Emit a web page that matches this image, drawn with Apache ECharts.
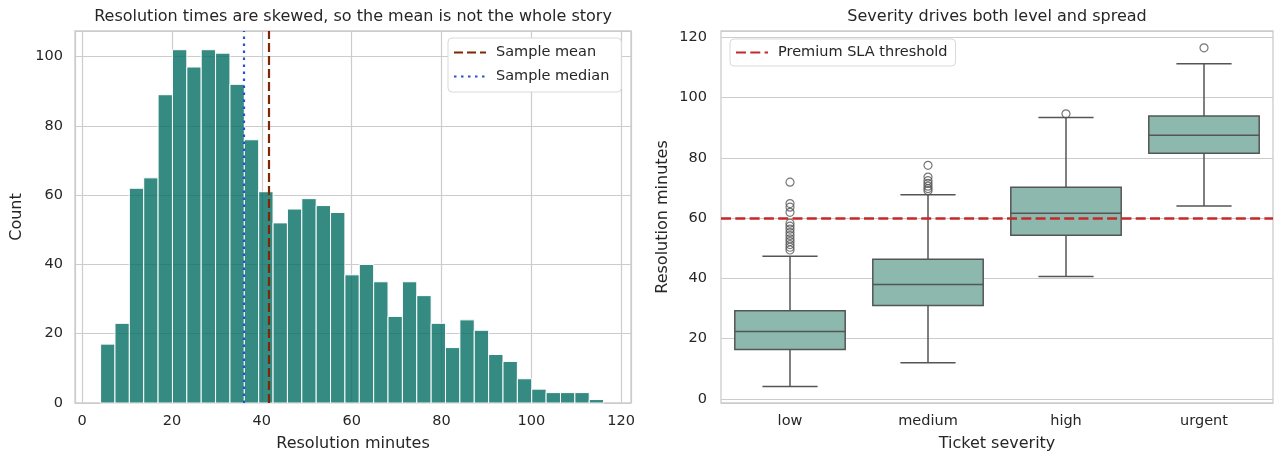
<!DOCTYPE html>
<html>
<head>
<meta charset="utf-8">
<script src="https://cdn.jsdelivr.net/npm/echarts@6.0.0/dist/echarts.min.js"></script>
<style>html,body{margin:0;background:#fff}#main{width:1284px;height:464px}</style>
</head>
<body>
<div id="main"></div>
<script>
// histogram of resolution minutes
const binEdges = [4.1, 7.3, 10.5, 13.7, 16.9, 20.1, 23.3, 26.5, 29.7, 32.9, 36.1, 39.3, 42.5, 45.7, 48.9, 52.1, 55.3, 58.5,
  61.7, 64.9, 68.1, 71.3, 74.5, 77.7, 80.9, 84.1, 87.3, 90.5, 93.7, 96.9, 100.1, 103.3, 106.5, 109.7, 112.9, 116.1];
const binCounts = [17, 23, 62, 65, 89, 102, 97, 102, 101, 92, 76, 61, 52, 56, 59, 57, 55, 37,
  40, 35, 25, 35, 31, 23, 16, 24, 21, 14, 12, 7, 4, 3, 3, 3, 1];
const sampleMean = 41.5;
const sampleMedian = 35.9;

// box plot by severity
const severities = ['low', 'medium', 'high', 'urgent'];
const boxStats = [ // min, q1, median, q3, max (whisker ends)
  [4.1, 16.4, 22.3, 29.2, 47.3],
  [12.0, 31.0, 37.9, 46.3, 67.7],
  [40.6, 54.3, 61.6, 70.2, 93.4],
  [64.0, 81.5, 87.5, 93.9, 111.2],
];
const outliersLow = [71.9, 64.8, 63.6, 61.9, 58.3, 57.3, 56.3, 55.2, 54.2, 53.1, 52.2, 51.2, 50.3, 49.4];
const outliersMedium = [77.5, 73.6, 72.4, 71.5, 70.6, 69.8, 69.1];
const outliersHigh = [94.6];
const outliersUrgent = [116.5];
const slaThreshold = 60;

const FONT = 'DejaVu Sans';
const TXT = '#262626';
const GRID = '#cccccc';

const outlierData = [
  ...outliersLow.map(v => ['low', v]),
  ...outliersMedium.map(v => ['medium', v]),
  ...outliersHigh.map(v => ['high', v]),
  ...outliersUrgent.map(v => ['urgent', v]),
];

const every20 = v => (Math.abs(v % 20) < 1e-6 ? String(Math.round(v)) : '');

function renderBin(params, api) {
  const p0 = api.coord([api.value(0), api.value(2)]);
  const p1 = api.coord([api.value(1), 0]);
  return {
    type: 'rect',
    shape: { x: p0[0], y: p0[1], width: p1[0] - p0[0], height: p1[1] - p0[1] },
    style: { fill: 'rgba(2,110,98,0.8)', stroke: '#ffffff', lineWidth: 1 },
  };
}

function renderBox(params, api) {
  const i = api.value(0);
  const band = api.size([1, 0])[0];
  const half = band * 0.4, capHalf = band * 0.2;
  const x = api.coord([i, 0])[0];
  const yOf = k => api.coord([i, api.value(k)])[1];
  const [yMin, yQ1, yMed, yQ3, yMax] = [1, 2, 3, 4, 5].map(yOf);
  const line = (x1, y1, x2, y2) => ({ type: 'line', shape: { x1, y1, x2, y2 }, style: { stroke: '#555555', lineWidth: 1.5 } });
  return {
    type: 'group',
    children: [
      line(x, yQ1, x, yMin), line(x - capHalf, yMin, x + capHalf, yMin),
      line(x, yQ3, x, yMax), line(x - capHalf, yMax, x + capHalf, yMax),
      { type: 'rect', shape: { x: x - half, y: yQ3, width: 2 * half, height: yQ1 - yQ3 },
        style: { fill: '#8db8ad', stroke: '#555555', lineWidth: 1.5 } },
      line(x - half, yMed, x + half, yMed),
    ],
  };
}

const axisText = { color: TXT, fontFamily: FONT, fontSize: 14.5 };
const nameText = { color: TXT, fontFamily: FONT, fontSize: 16 };
const legendCommon = {
  orient: 'vertical', backgroundColor: '#ffffff', borderColor: '#d9d9d9', borderWidth: 1, borderRadius: 4,
  itemWidth: 32, itemHeight: 14, itemGap: 9,
  itemStyle: { opacity: 0 },
  textStyle: { color: TXT, fontFamily: FONT, fontSize: 14.5, padding: [0, 0, 0, 5] },
};

const chart = echarts.init(document.getElementById('main'), null, { renderer: 'canvas' });
chart.setOption({
  animation: false,
  backgroundColor: '#ffffff',
  title: [
    { text: 'Resolution times are skewed, so the mean is not the whole story', left: 353, top: 9, textAlign: 'center', padding: 0,
      textStyle: { color: TXT, fontFamily: FONT, fontSize: 16, fontWeight: 'normal' } },
    { text: 'Severity drives both level and spread', left: 997, top: 9, textAlign: 'center', padding: 0,
      textStyle: { color: TXT, fontFamily: FONT, fontSize: 16, fontWeight: 'normal' } },
  ],
  legend: [
    Object.assign({}, legendCommon, { left: 448, top: 38, padding: [7, 12, 8, 5], data: ['Sample mean', 'Sample median'] }),
    Object.assign({}, legendCommon, { left: 730, top: 39, padding: [6, 8, 6, 5], data: ['Premium SLA threshold'] }),
  ],
  grid: [
    { left: 75, top: 31, width: 556, height: 372, show: true, borderColor: GRID, borderWidth: 1.3, backgroundColor: '#fff',
      containLabel: false, outerBoundsMode: 'none' },
    { left: 721, top: 31, width: 552, height: 372, show: true, borderColor: GRID, borderWidth: 1.3, backgroundColor: '#fff',
      containLabel: false, outerBoundsMode: 'none' },
  ],
  xAxis: [
    { type: 'value', gridIndex: 0, min: -1.6, max: 122.2, splitNumber: 6,
      name: 'Resolution minutes', nameLocation: 'middle', nameGap: 33, nameTextStyle: nameText,
      axisLine: { show: false }, axisTick: { show: false },
      axisLabel: Object.assign({ margin: 11, formatter: every20, showMinLabel: true, showMaxLabel: true }, axisText),
      splitLine: { show: true, lineStyle: { color: GRID, width: 1.2 } } },
    { type: 'category', gridIndex: 1, data: severities, boundaryGap: true,
      name: 'Ticket severity', nameLocation: 'middle', nameGap: 33, nameTextStyle: nameText,
      axisLine: { show: false }, axisTick: { show: false },
      axisLabel: Object.assign({ margin: 11 }, axisText),
      splitLine: { show: false } },
  ],
  yAxis: [
    { type: 'value', gridIndex: 0, min: 0, max: 107.4, interval: 20,
      name: 'Count', nameLocation: 'middle', nameGap: 50, nameTextStyle: nameText,
      axisLine: { show: false }, axisTick: { show: false },
      axisLabel: Object.assign({ margin: 12, formatter: every20 }, axisText),
      splitLine: { show: true, lineStyle: { color: GRID, width: 1.2 } } },
    { type: 'value', gridIndex: 1, min: -1.4, max: 122.1, splitNumber: 6,
      name: 'Resolution minutes', nameLocation: 'middle', nameGap: 50, nameTextStyle: nameText,
      axisLine: { show: false }, axisTick: { show: false },
      axisLabel: Object.assign({ margin: 14, formatter: every20 }, axisText),
      splitLine: { show: true, lineStyle: { color: GRID, width: 1.2 } } },
  ],
  series: [
    { type: 'custom', name: 'hist', xAxisIndex: 0, yAxisIndex: 0, renderItem: renderBin,
      encode: { x: [0, 1], y: 2 },
      data: binCounts.map((c, i) => [binEdges[i], binEdges[i + 1], c]) },
    { type: 'line', name: 'Sample mean', xAxisIndex: 0, yAxisIndex: 0, data: [], symbol: 'none',
      itemStyle: { color: '#7f2704' },
      lineStyle: { color: '#7f2704', width: 2.2, type: [9, 4] },
      markLine: { silent: true, symbol: 'none', label: { show: false },
        lineStyle: { color: '#7f2704', width: 2.2, type: [9, 4] },
        data: [{ xAxis: sampleMean }] } },
    { type: 'line', name: 'Sample median', xAxisIndex: 0, yAxisIndex: 0, data: [], symbol: 'none',
      itemStyle: { color: '#2650d8' },
      lineStyle: { color: '#2650d8', width: 2.2, type: [2.5, 4.5] },
      markLine: { silent: true, symbol: 'none', label: { show: false },
        lineStyle: { color: '#2650d8', width: 2.2, type: [2.5, 4.5] },
        data: [{ xAxis: sampleMedian }] } },
    { type: 'custom', name: 'box', xAxisIndex: 1, yAxisIndex: 1, renderItem: renderBox,
      encode: { x: 0, y: [1, 2, 3, 4, 5] },
      data: boxStats.map((s, i) => [i, ...s]) },
    { type: 'scatter', name: 'outliers', xAxisIndex: 1, yAxisIndex: 1, symbol: 'circle', symbolSize: 8,
      itemStyle: { color: 'rgba(0,0,0,0)', borderColor: '#555555', borderWidth: 1.2 },
      data: outlierData },
    { type: 'line', name: 'Premium SLA threshold', xAxisIndex: 1, yAxisIndex: 1, data: [], symbol: 'none', z: 5,
      itemStyle: { color: '#c62828' },
      lineStyle: { color: '#c62828', width: 2.5, type: [10, 4.3] },
      markLine: { silent: true, symbol: 'none', label: { show: false }, z: 5,
        lineStyle: { color: '#c62828', width: 2.5, type: [10, 4.3] },
        data: [{ yAxis: slaThreshold }] } },
  ],
});
</script>
</body>
</html>
